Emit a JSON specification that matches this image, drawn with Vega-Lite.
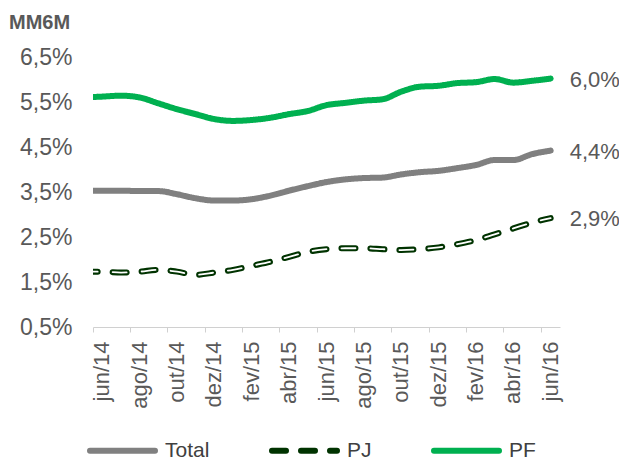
{
  "$schema": "https://vega.github.io/schema/vega-lite/v6.json",
  "autosize": "none",
  "width": 467,
  "height": 270,
  "padding": {"left": 93, "top": 57, "right": 59, "bottom": 132},
  "title": {"text": "MM6M", "anchor": "start", "frame": "group", "dx": -84, "offset": 13, "fontSize": 20, "fontWeight": "bold", "color": "#595959", "font": "Liberation Sans"},
  "config": {
    "font": "Liberation Sans",
    "view": {"stroke": null},
    "locale": {"number": {"decimal": ",", "thousands": ".", "grouping": [3], "currency": ["R$", ""]}},
    "legend": {
      "orient": "none", "legendX": -6, "legendY": 358, "direction": "horizontal",
      "symbolType": "stroke", "symbolSize": 4225, "symbolStrokeWidth": 6,
      "labelFontSize": 21, "labelColor": "#404040", "labelOffset": 7, "columnPadding": 50,
      "labelFont": "Liberation Sans"
    }
  },
  "data": {"values": [
    {"n": -1, "mes": "mai/14", "serie": "PF", "v": 0.0560},
    {"n": 0, "mes": "jun/14", "serie": "PF", "v": 0.0562},
    {"n": 1, "mes": "jul/14", "serie": "PF", "v": 0.0564},
    {"n": 2, "mes": "ago/14", "serie": "PF", "v": 0.0560},
    {"n": 3, "mes": "set/14", "serie": "PF", "v": 0.0547},
    {"n": 4, "mes": "out/14", "serie": "PF", "v": 0.0534},
    {"n": 5, "mes": "nov/14", "serie": "PF", "v": 0.0523},
    {"n": 6, "mes": "dez/14", "serie": "PF", "v": 0.0512},
    {"n": 7, "mes": "jan/15", "serie": "PF", "v": 0.0508},
    {"n": 8, "mes": "fev/15", "serie": "PF", "v": 0.0510},
    {"n": 9, "mes": "mar/15", "serie": "PF", "v": 0.0515},
    {"n": 10, "mes": "abr/15", "serie": "PF", "v": 0.0523},
    {"n": 11, "mes": "mai/15", "serie": "PF", "v": 0.0530},
    {"n": 12, "mes": "jun/15", "serie": "PF", "v": 0.0543},
    {"n": 13, "mes": "jul/15", "serie": "PF", "v": 0.0548},
    {"n": 14, "mes": "ago/15", "serie": "PF", "v": 0.0553},
    {"n": 15, "mes": "set/15", "serie": "PF", "v": 0.0556},
    {"n": 16, "mes": "out/15", "serie": "PF", "v": 0.0573},
    {"n": 17, "mes": "nov/15", "serie": "PF", "v": 0.0584},
    {"n": 18, "mes": "dez/15", "serie": "PF", "v": 0.0586},
    {"n": 19, "mes": "jan/16", "serie": "PF", "v": 0.0592},
    {"n": 20, "mes": "fev/16", "serie": "PF", "v": 0.0594},
    {"n": 21, "mes": "mar/16", "serie": "PF", "v": 0.0601},
    {"n": 22, "mes": "abr/16", "serie": "PF", "v": 0.0593},
    {"n": 23, "mes": "mai/16", "serie": "PF", "v": 0.0597},
    {"n": 24, "mes": "jun/16", "serie": "PF", "v": 0.0602},
    {"n": -1, "mes": "mai/14", "serie": "Total", "v": 0.0353},
    {"n": 0, "mes": "jun/14", "serie": "Total", "v": 0.0353},
    {"n": 1, "mes": "jul/14", "serie": "Total", "v": 0.0353},
    {"n": 2, "mes": "ago/14", "serie": "Total", "v": 0.0352},
    {"n": 3, "mes": "set/14", "serie": "Total", "v": 0.0352},
    {"n": 4, "mes": "out/14", "serie": "Total", "v": 0.0345},
    {"n": 5, "mes": "nov/14", "serie": "Total", "v": 0.0336},
    {"n": 6, "mes": "dez/14", "serie": "Total", "v": 0.0331},
    {"n": 7, "mes": "jan/15", "serie": "Total", "v": 0.0331},
    {"n": 8, "mes": "fev/15", "serie": "Total", "v": 0.0334},
    {"n": 9, "mes": "mar/15", "serie": "Total", "v": 0.0342},
    {"n": 10, "mes": "abr/15", "serie": "Total", "v": 0.0353},
    {"n": 11, "mes": "mai/15", "serie": "Total", "v": 0.0363},
    {"n": 12, "mes": "jun/15", "serie": "Total", "v": 0.0372},
    {"n": 13, "mes": "jul/15", "serie": "Total", "v": 0.0378},
    {"n": 14, "mes": "ago/15", "serie": "Total", "v": 0.0381},
    {"n": 15, "mes": "set/15", "serie": "Total", "v": 0.0382},
    {"n": 16, "mes": "out/15", "serie": "Total", "v": 0.0389},
    {"n": 17, "mes": "nov/15", "serie": "Total", "v": 0.0394},
    {"n": 18, "mes": "dez/15", "serie": "Total", "v": 0.0397},
    {"n": 19, "mes": "jan/16", "serie": "Total", "v": 0.0403},
    {"n": 20, "mes": "fev/16", "serie": "Total", "v": 0.0410},
    {"n": 21, "mes": "mar/16", "serie": "Total", "v": 0.0421},
    {"n": 22, "mes": "abr/16", "serie": "Total", "v": 0.0421},
    {"n": 23, "mes": "mai/16", "serie": "Total", "v": 0.0434},
    {"n": 24, "mes": "jun/16", "serie": "Total", "v": 0.0442},
    {"n": -1, "mes": "mai/14", "serie": "PJ", "v": 0.0173},
    {"n": 0, "mes": "jun/14", "serie": "PJ", "v": 0.0173},
    {"n": 1, "mes": "jul/14", "serie": "PJ", "v": 0.0171},
    {"n": 2, "mes": "ago/14", "serie": "PJ", "v": 0.0173},
    {"n": 3, "mes": "set/14", "serie": "PJ", "v": 0.0177},
    {"n": 4, "mes": "out/14", "serie": "PJ", "v": 0.0173},
    {"n": 5, "mes": "nov/14", "serie": "PJ", "v": 0.0166},
    {"n": 6, "mes": "dez/14", "serie": "PJ", "v": 0.0171},
    {"n": 7, "mes": "jan/15", "serie": "PJ", "v": 0.0177},
    {"n": 8, "mes": "fev/15", "serie": "PJ", "v": 0.0186},
    {"n": 9, "mes": "mar/15", "serie": "PJ", "v": 0.0195},
    {"n": 10, "mes": "abr/15", "serie": "PJ", "v": 0.0206},
    {"n": 11, "mes": "mai/15", "serie": "PJ", "v": 0.0217},
    {"n": 12, "mes": "jun/15", "serie": "PJ", "v": 0.0223},
    {"n": 13, "mes": "jul/15", "serie": "PJ", "v": 0.0225},
    {"n": 14, "mes": "ago/15", "serie": "PJ", "v": 0.0225},
    {"n": 15, "mes": "set/15", "serie": "PJ", "v": 0.0223},
    {"n": 16, "mes": "out/15", "serie": "PJ", "v": 0.0221},
    {"n": 17, "mes": "nov/15", "serie": "PJ", "v": 0.0223},
    {"n": 18, "mes": "dez/15", "serie": "PJ", "v": 0.0227},
    {"n": 19, "mes": "jan/16", "serie": "PJ", "v": 0.0234},
    {"n": 20, "mes": "fev/16", "serie": "PJ", "v": 0.0243},
    {"n": 21, "mes": "mar/16", "serie": "PJ", "v": 0.0256},
    {"n": 22, "mes": "abr/16", "serie": "PJ", "v": 0.0269},
    {"n": 23, "mes": "mai/16", "serie": "PJ", "v": 0.0282},
    {"n": 24, "mes": "jun/16", "serie": "PJ", "v": 0.0292}
  ]},
  "resolve": {"scale": {"x": "independent"}},
  "layer": [
    {
      "transform": [{"filter": "datum.n >= 0"}],
      "mark": {"type": "rule", "opacity": 0},
      "encoding": {
        "x": {"field": "mes", "type": "ordinal",
          "scale": {"type": "band", "paddingInner": 0, "paddingOuter": 0,
            "domain": ["jun/14","jul/14","ago/14","set/14","out/14","nov/14","dez/14","jan/15","fev/15","mar/15","abr/15","mai/15","jun/15","jul/15","ago/15","set/15","out/15","nov/15","dez/15","jan/16","fev/16","mar/16","abr/16","mai/16","jun/16"]},
          "axis": {"title": null, "values": ["jun/14","ago/14","out/14","dez/14","fev/15","abr/15","jun/15","ago/15","out/15","dez/15","fev/16","abr/16","jun/16"],
            "bandPosition": 0, "labelAngle": -90, "labelAlign": "right", "labelBaseline": "middle",
            "labelFontSize": 22, "labelColor": "#595959", "labelPadding": 9,
            "domainColor": "#D0D0D0", "domainWidth": 1, "tickColor": "#D0D0D0", "tickSize": 5, "tickWidth": 1, "grid": false}}
      }
    },
    {
      "layer": [
        {
          "mark": {"type": "line", "strokeWidth": 6, "strokeCap": "round", "interpolate": "monotone", "clip": true},
          "encoding": {
            "x": {"field": "n", "type": "quantitative", "scale": {"domain": [-0.5, 24.5], "nice": false, "zero": false}, "axis": null},
            "y": {"field": "v", "type": "quantitative",
              "scale": {"domain": [0.005, 0.065], "nice": false, "zero": false},
              "axis": {"title": null, "values": [0.005, 0.015, 0.025, 0.035, 0.045, 0.055, 0.065], "format": ".1%",
                "domain": false, "ticks": false, "grid": false, "labelFontSize": 23, "labelColor": "#595959", "labelPadding": 21}},
            "color": {"field": "serie", "type": "nominal", "title": null,
              "scale": {"domain": ["Total", "PJ", "PF"], "range": ["#808080", "#003300", "#00B050"]},
              "legend": {"title": null, "symbolStrokeWidth": 6, "encode": {"symbols": {"update": {"strokeCap": {"value": "round"}}}}}},
            "strokeDash": {"field": "serie", "type": "nominal", "title": null,
              "scale": {"domain": ["Total", "PJ", "PF"], "range": [[1, 0], [14, 15], [1, 0]]},
              "legend": {"title": null, "symbolStrokeWidth": 6, "encode": {"symbols": {"update": {"strokeCap": {"value": "round"}}}}}}
          }
        },
        {
          "transform": [{"filter": "datum.serie == 'PJ'"}],
          "mark": {"type": "line", "strokeWidth": 1.8, "strokeCap": "round", "interpolate": "monotone", "clip": true, "color": "#FFFFFF", "strokeDash": [14, 15]},
          "encoding": {
            "x": {"field": "n", "type": "quantitative", "scale": {"domain": [-0.5, 24.5], "nice": false, "zero": false}, "axis": null},
            "y": {"field": "v", "type": "quantitative"}
          }
        },
        {
          "transform": [{"filter": "datum.n == 24"}],
          "mark": {"type": "text", "align": "left", "baseline": "middle", "dx": 19, "dy": 1, "fontSize": 22, "color": "#595959"},
          "encoding": {
            "x": {"field": "n", "type": "quantitative", "scale": {"domain": [-0.5, 24.5], "nice": false, "zero": false}, "axis": null},
            "y": {"field": "v", "type": "quantitative"},
            "text": {"field": "v", "type": "quantitative", "format": ".1%"}
          }
        }
      ]
    }
  ]
}
